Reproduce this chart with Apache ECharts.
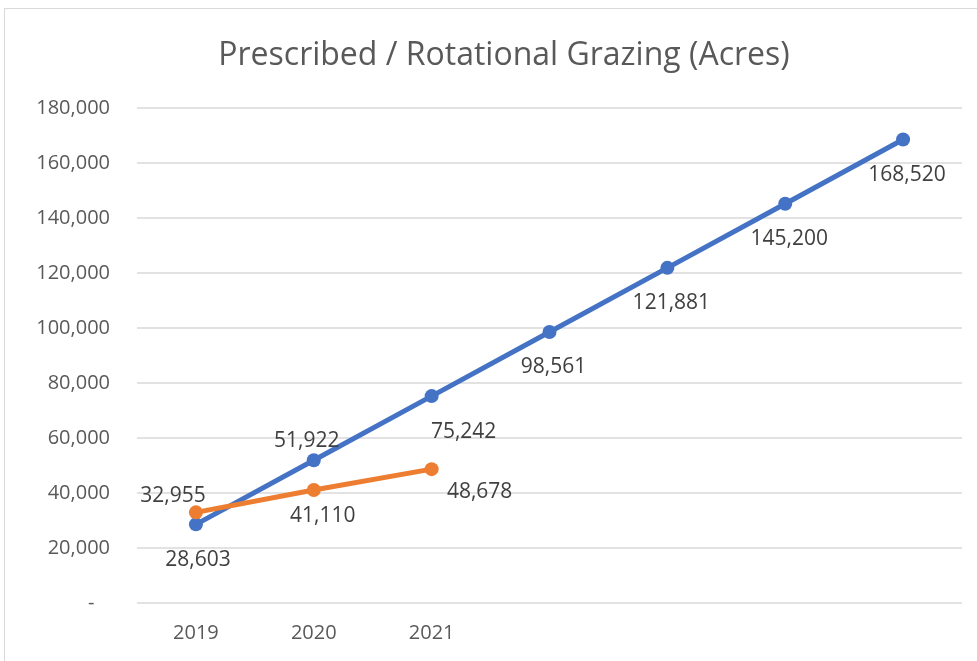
<!DOCTYPE html>
<html>
<head>
<meta charset="utf-8">
<script src="https://cdn.jsdelivr.net/npm/echarts@6/dist/echarts.min.js"></script>
<style>
  body { margin: 0; background: #fff; }
  #frame { position: absolute; left: 4px; top: 8px; width: 1000px; height: 700px; border: 1px solid #d9d9d9; }
  #chart { position: absolute; left: 0; top: 0; width: 977px; height: 661px; }
</style>
</head>
<body>
<div id="frame"></div>
<div id="chart"></div>
<script>
/* chart data */
let years = ["2019", "2020", "2021", "", "", "", ""];
let projected = [28603, 51922, 75242, 98561, 121881, 145200, 168520];
let actual = [32955, 41110, 48678];

/* label placement per point, [dx, dy] */
let projectedLabelOffsets = [[2, 36], [-7, -19], [32, 36], [4, 35], [4, 35], [4, 35], [4, 35]];
let actualLabelOffsets = [[-23, -16], [9, 26], [48, 23]];

function fmt(v) {
  return v.toLocaleString("en-US");
}

function withLabels(values, offsets) {
  return values.map(function (v, i) {
    return { value: v, label: { offset: offsets[i] } };
  });
}

let labelStyle = {
  show: true,
  position: "inside",
  fontFamily: "Open Sans",
  fontSize: 21,
  color: "#404040",
  formatter: function (p) {
    return fmt(p.value);
  },
};

let myChart = echarts.init(document.getElementById("chart"));
let option = {
  animation: false,
  title: {
    text: "Prescribed / Rotational Grazing (Acres)",
    left: 499,
    textAlign: "center",
    top: 35,
    textStyle: { fontFamily: "Open Sans", fontSize: 32, fontWeight: "normal", color: "#595959" },
  },
  grid: { left: 137, right: 15, top: 108, bottom: 58 },
  xAxis: {
    type: "category",
    data: years,
    boundaryGap: true,
    axisLine: { show: false },
    axisTick: { show: false },
    axisLabel: { fontFamily: "Open Sans", fontSize: 20, color: "#595959", margin: 20 },
  },
  yAxis: {
    type: "value",
    min: 0,
    max: 180000,
    interval: 20000,
    axisLine: { show: false },
    axisTick: { show: false },
    splitLine: { lineStyle: { color: "#d9d9d9", width: 1.5 } },
    axisLabel: {
      fontFamily: "Open Sans",
      fontSize: 20,
      color: "#595959",
      margin: 27,
      formatter: function (v) {
        return v === 0 ? "-   " : fmt(v);
      },
    },
  },
  series: [
    {
      type: "line",
      data: withLabels(projected, projectedLabelOffsets),
      symbol: "circle",
      symbolSize: 14,
      lineStyle: { color: "#4472c4", width: 5 },
      itemStyle: { color: "#4472c4" },
      label: labelStyle,
      z: 2,
    },
    {
      type: "line",
      data: withLabels(actual, actualLabelOffsets),
      symbol: "circle",
      symbolSize: 14,
      lineStyle: { color: "#ed7d31", width: 5 },
      itemStyle: { color: "#ed7d31" },
      label: labelStyle,
      z: 3,
    },
  ],
};
myChart.setOption(option);
</script>
</body>
</html>
